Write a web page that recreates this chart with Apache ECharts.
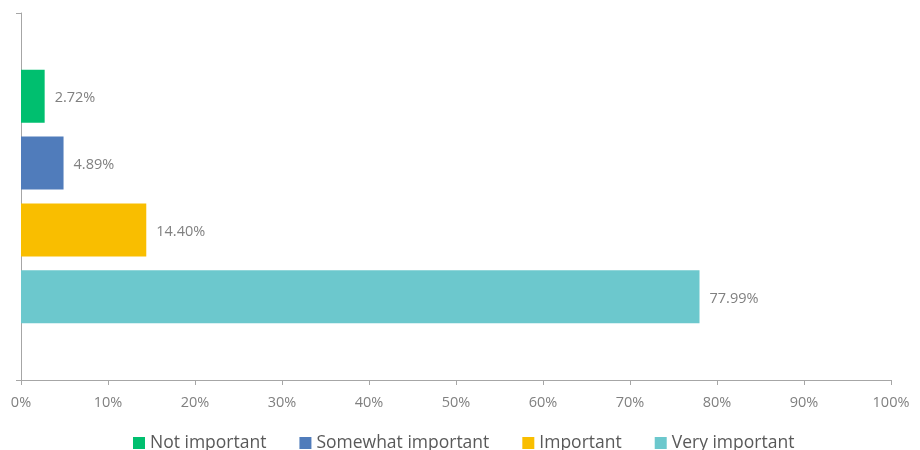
<!DOCTYPE html>
<html><head><meta charset="utf-8">
<script src="https://cdn.jsdelivr.net/npm/echarts@6/dist/echarts.min.js"></script>
<style>html,body{margin:0;padding:0;background:#fff}#c{width:920px;height:450px}</style>
</head><body><div id="c"></div>
<script>
const categories = [''];
const seriesNames = ['Not important', 'Somewhat important', 'Important', 'Very important'];
const seriesValues = [2.72, 4.89, 14.40, 77.99];
const seriesColors = ['#00BF6F', '#507CBB', '#F9BE00', '#6CC8CD'];
const xTicks = [0, 10, 20, 30, 40, 50, 60, 70, 80, 90, 100];

const font = '"Open Sans", "Noto Sans", sans-serif';
const chart = echarts.init(document.getElementById('c'), null, {renderer: 'canvas'});
chart.setOption({
  animation: false,
  textStyle: {fontFamily: font},
  grid: {left: 21, right: 29, top: 13, bottom: 70, containLabel: false},
  legend: {
    top: 429, left: 128, itemWidth: 12, itemHeight: 12, itemGap: 33,
    icon: 'rect',
    textStyle: {fontSize: 17.5, color: '#595959', fontFamily: font},
    data: seriesNames
  },
  xAxis: {
    type: 'value', min: xTicks[0], max: xTicks[xTicks.length - 1], interval: 10,
    axisLine: {show: true, lineStyle: {color: '#A6A6A6', width: 1}},
    axisTick: {show: true, length: 5, lineStyle: {color: '#A6A6A6'}},
    splitLine: {show: false},
    axisLabel: {formatter: v => v + '%', color: '#808080', fontSize: 14.5, margin: 15, fontFamily: font}
  },
  yAxis: {
    type: 'category', data: categories, inverse: true,
    axisLine: {show: true, lineStyle: {color: '#A6A6A6', width: 1}},
    axisTick: {show: true, length: 5, lineStyle: {color: '#A6A6A6'}},
    axisLabel: {show: false}
  },
  series: seriesNames.map((n, i) => ({
    name: n, type: 'bar', data: [seriesValues[i]],
    barWidth: 53, barGap: '26%',
    itemStyle: {color: seriesColors[i]},
    label: {show: true, position: 'right', distance: 10, color: '#808080', fontSize: 14.5, fontFamily: font,
      offset: [0, 2],
      formatter: p => p.value.toFixed(2) + '%'}
  }))
});
</script></body></html>
